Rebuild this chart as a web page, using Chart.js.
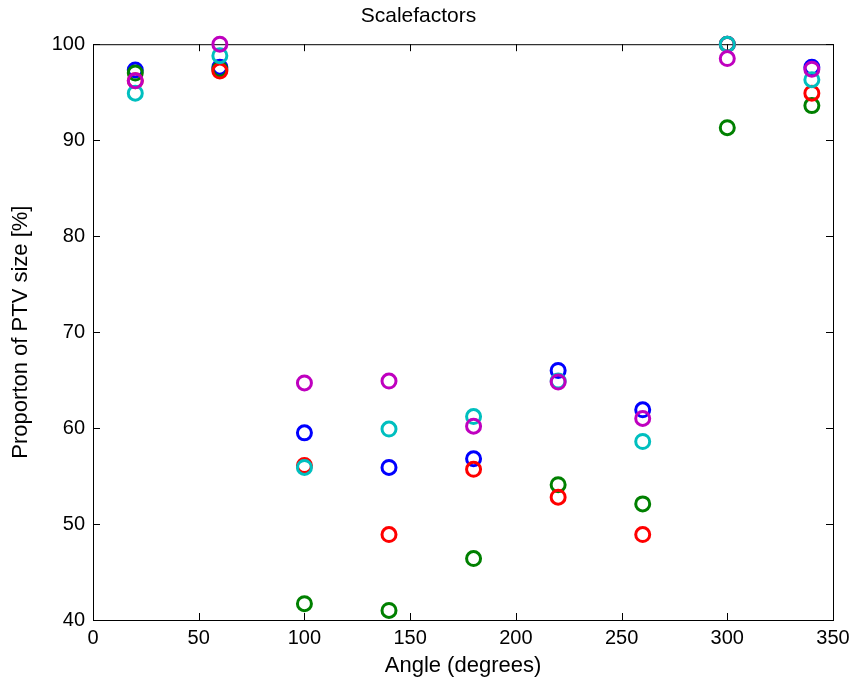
<!DOCTYPE html>
<html>
<head>
<meta charset="utf-8">
<script src="https://cdn.jsdelivr.net/npm/chart.js@4/dist/chart.umd.min.js"></script>
<style>
  html, body { margin: 0; padding: 0; background: #fff; }
  #wrap { width: 852px; height: 681px; }
</style>
</head>
<body>
<div id="wrap"><canvas id="scaleChart" width="852" height="681"></canvas></div>
<script>
// angles (degrees) and scale factors per series
const angles = [20, 60, 100, 140, 180, 220, 260, 300, 340];
const blueVals    = [97.3, 97.6, 59.5, 55.9, 56.8, 66.0, 61.9, 100.0, 97.6];
const greenVals   = [97.0, 97.4, 41.7, 41.0, 46.4, 54.1, 52.1, 91.3, 93.6];
const redVals     = [96.2, 97.2, 56.1, 48.9, 55.7, 52.8, 48.9, 100.0, 94.9];
const cyanVals    = [94.9, 98.8, 55.9, 59.9, 61.2, 64.9, 58.6, 100.0, 96.3];
const magentaVals = [96.2, 100.0, 64.7, 64.9, 60.2, 64.8, 61.0, 98.5, 97.4];
const xTicks = [0, 50, 100, 150, 200, 250, 300, 350];
const yTicks = [40, 50, 60, 70, 80, 90, 100];

const FONT = '"Liberation Sans", Arial, sans-serif';

function toPoints(vals) {
    return angles.map((a, i) => ({ x: a, y: vals[i] }));
}

// later series are drawn on top (lower order = on top in chart.js)
function series(vals, color, order) {
    return {
        data: toPoints(vals),
        borderColor: color,
        backgroundColor: 'rgba(0,0,0,0)',
        pointRadius: 7,
        pointHoverRadius: 7,
        pointBorderWidth: 3,
        showLine: false,
        clip: false,
        order: order
    };
}

// draws the matlab style box with inward ticks
const boxPlugin = {
    id: 'box',
    beforeDatasetsDraw(chart) {
        const { ctx, chartArea: a, scales } = chart;
        ctx.save();
        ctx.strokeStyle = '#000';
        ctx.lineWidth = 1;
        ctx.strokeRect(a.left + 0.5, a.top + 0.5, a.right - a.left, a.bottom - a.top);
        ctx.beginPath();
        xTicks.forEach(v => {
            const px = Math.round(scales.x.getPixelForValue(v)) + 0.5;
            ctx.moveTo(px, a.bottom); ctx.lineTo(px, a.bottom - 7);
            ctx.moveTo(px, a.top); ctx.lineTo(px, a.top + 7);
        });
        yTicks.forEach(v => {
            const py = Math.round(scales.y.getPixelForValue(v)) + 0.5;
            ctx.moveTo(a.left, py); ctx.lineTo(a.left + 7, py);
            ctx.moveTo(a.right, py); ctx.lineTo(a.right - 7, py);
        });
        ctx.stroke();
        ctx.restore();
    }
};

new Chart(document.getElementById('scaleChart'), {
    type: 'scatter',
    data: {
        datasets: [
            series(blueVals, '#0000ff', 5),
            series(greenVals, '#008000', 4),
            series(redVals, '#ff0000', 3),
            series(cyanVals, '#00bfbf', 2),
            series(magentaVals, '#bf00bf', 1)
        ]
    },
    options: {
        responsive: false,
        animation: false,
        layout: { padding: { left: 4, right: 19, top: 0, bottom: 0 } },
        plugins: {
            legend: { display: false },
            tooltip: { enabled: false },
            title: {
                display: true,
                text: 'Scalefactors',
                color: '#000',
                font: { family: FONT, size: 21, weight: 'normal' },
                padding: { top: 4, bottom: 15 }
            }
        },
        scales: {
            x: {
                type: 'linear',
                min: 0, max: 350,
                afterBuildTicks: s => { s.ticks = xTicks.map(v => ({ value: v })); },
                afterFit: s => { s.height = 61; s.paddingLeft = 0; s.paddingRight = 0; },
                grid: { display: false, drawTicks: false },
                border: { display: false },
                ticks: { color: '#000', padding: 6, font: { family: FONT, size: 20 } },
                title: {
                    display: true, text: 'Angle (degrees)', color: '#000',
                    font: { family: FONT, size: 22 }, padding: { top: 0, bottom: 2 }
                }
            },
            y: {
                type: 'linear',
                min: 40, max: 100,
                afterBuildTicks: s => { s.ticks = yTicks.map(v => ({ value: v })); },
                afterFit: s => { s.width = 89; s.paddingTop = 0; s.paddingBottom = 0; },
                grid: { display: false, drawTicks: false },
                border: { display: false },
                ticks: { color: '#000', padding: 8, font: { family: FONT, size: 20 } },
                title: {
                    display: true, text: 'Proporton of PTV size [%]', color: '#000',
                    font: { family: FONT, size: 22 }, padding: { top: 4, bottom: 2 }
                }
            }
        }
    },
    plugins: [boxPlugin]
});
</script>
</body>
</html>
